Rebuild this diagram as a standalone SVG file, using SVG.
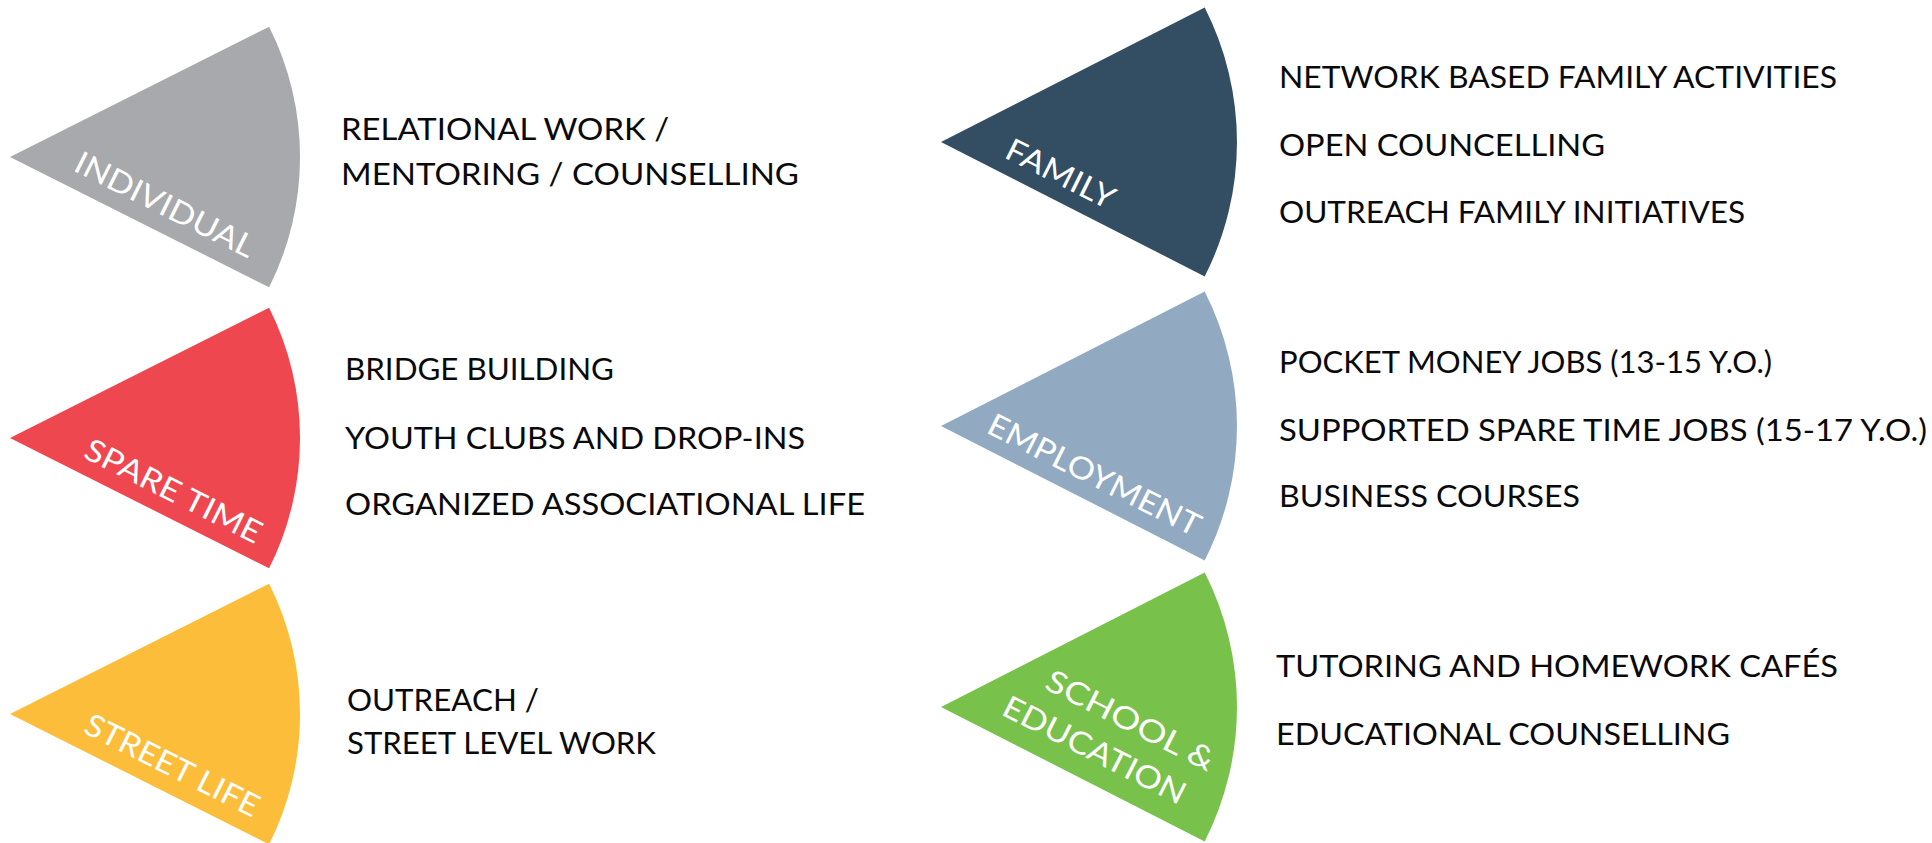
<svg xmlns="http://www.w3.org/2000/svg" width="1932" height="843" viewBox="0 0 1932 843">
<style>
.t{font-family:Lato,"Liberation Sans",sans-serif;font-size:30px;fill:#0a0a0a}
.w{font-family:Lato,"Liberation Sans",sans-serif;font-size:31px;fill:#ffffff}
</style>
<rect width="1932" height="843" fill="#ffffff"/>
<g id="individual">
<path d="M10,157 L269.1,26.7 A290,290 0 0 1 269.1,287.3 Z" fill="#A7A9AC"/>
<text class="w" transform="translate(72,170) rotate(26.7)" textLength="197" lengthAdjust="spacingAndGlyphs">INDIVIDUAL</text>
<text class="t" x="341" y="140" textLength="328" lengthAdjust="spacingAndGlyphs">RELATIONAL WORK /</text>
<text class="t" x="341" y="185" textLength="458" lengthAdjust="spacingAndGlyphs">MENTORING / COUNSELLING</text>
</g>
<g id="spare-time">
<path d="M10,438 L269.1,307.7 A290,290 0 0 1 269.1,568.3 Z" fill="#EE4750"/>
<text class="w" transform="translate(82,457) rotate(26.7)" textLength="194" lengthAdjust="spacingAndGlyphs">SPARE TIME</text>
<text class="t" x="345" y="380" textLength="269" lengthAdjust="spacingAndGlyphs">BRIDGE BUILDING</text>
<text class="t" x="345" y="449" textLength="460" lengthAdjust="spacingAndGlyphs">YOUTH CLUBS AND DROP-INS</text>
<text class="t" x="345" y="515" textLength="520" lengthAdjust="spacingAndGlyphs">ORGANIZED ASSOCIATIONAL LIFE</text>
</g>
<g id="street-life">
<path d="M10,714 L269.1,583.7 A290,290 0 0 1 269.1,844.3 Z" fill="#FCBD3A"/>
<text class="w" transform="translate(82,732) rotate(26.7)" textLength="191" lengthAdjust="spacingAndGlyphs">STREET LIFE</text>
<text class="t" x="347" y="711" textLength="192" lengthAdjust="spacingAndGlyphs">OUTREACH /</text>
<text class="t" x="347" y="754" textLength="309" lengthAdjust="spacingAndGlyphs">STREET LEVEL WORK</text>
</g>
<g id="family">
<path d="M941,142 L1204.7,7.6 A296,296 0 0 1 1204.7,276.4 Z" fill="#334D62"/>
<text class="w" transform="translate(1003,157) rotate(26.7)" textLength="118" lengthAdjust="spacingAndGlyphs">FAMILY</text>
<text class="t" x="1279" y="88" textLength="558" lengthAdjust="spacingAndGlyphs">NETWORK BASED FAMILY ACTIVITIES</text>
<text class="t" x="1279" y="156" textLength="326" lengthAdjust="spacingAndGlyphs">OPEN COUNCELLING</text>
<text class="t" x="1279" y="223" textLength="466" lengthAdjust="spacingAndGlyphs">OUTREACH FAMILY INITIATIVES</text>
</g>
<g id="employment">
<path d="M941,426 L1204.7,291.6 A296,296 0 0 1 1204.7,560.4 Z" fill="#91AAC1"/>
<text class="w" transform="translate(985,432) rotate(26.7)" textLength="234" lengthAdjust="spacingAndGlyphs">EMPLOYMENT</text>
<text class="t" x="1279" y="373" textLength="493" lengthAdjust="spacingAndGlyphs">POCKET MONEY JOBS (13-15 Y.O.)</text>
<text class="t" x="1279" y="441" textLength="648" lengthAdjust="spacingAndGlyphs">SUPPORTED SPARE TIME JOBS (15-17 Y.O.)</text>
<text class="t" x="1279" y="507" textLength="301" lengthAdjust="spacingAndGlyphs">BUSINESS COURSES</text>
</g>
<g id="school-education">
<path d="M941,707 L1204.7,572.6 A296,296 0 0 1 1204.7,841.4 Z" fill="#78C14A"/>
<text class="w" transform="translate(1043,688) rotate(27)" textLength="185" lengthAdjust="spacingAndGlyphs">SCHOOL &amp;</text>
<text class="w" transform="translate(1000,714) rotate(27)" textLength="201" lengthAdjust="spacingAndGlyphs">EDUCATION</text>
<text class="t" x="1276" y="677" textLength="562" lengthAdjust="spacingAndGlyphs">TUTORING AND HOMEWORK CAFÉS</text>
<text class="t" x="1276" y="745" textLength="454" lengthAdjust="spacingAndGlyphs">EDUCATIONAL COUNSELLING</text>
</g>
<g id="connectors"/>
</svg>
